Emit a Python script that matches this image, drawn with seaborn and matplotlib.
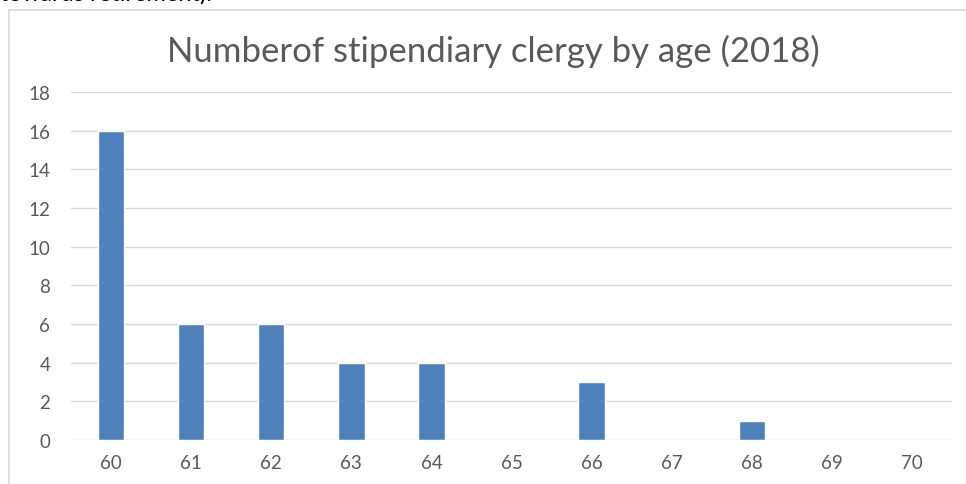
import seaborn as sns
import matplotlib.pyplot as plt
from matplotlib.patches import Rectangle
import pandas as pd

ages = ['60', '61', '62', '63', '64', '65', '66', '67', '68', '69', '70']
counts = [16, 6, 6, 4, 4, 0, 3, 0, 1, 0, 0]
yticks = [0, 2, 4, 6, 8, 10, 12, 14, 16, 18]

sns.set_style('white')
plt.rcParams['font.family'] = ['Lato', 'DejaVu Sans']

df = pd.DataFrame({'age': ages, 'count': counts})

fig = plt.figure(figsize=(9.66, 4.85), dpi=100)
W, H = 966, 485

# chart frame (screenshot of the spreadsheet chart)
fig.patches.append(Rectangle((9 / W, -0.1), 1.2, 1 - 11 / H + 0.1,
                             transform=fig.transFigure, fill=False,
                             edgecolor='#d9d9d9', linewidth=1.2))
# clipped text from the page above the chart
fig.text(0.0, 1.0 + 6 / H, 'towards retirement).', fontsize=17,
         color='black', ha='left', va='center')

ax = fig.add_axes([71 / W, 1 - 441 / H, (952 - 71) / W, (441 - 93) / H])
sns.barplot(data=df, x='age', y='count', color='#4f81bd', width=0.33,
            saturation=1, ax=ax)
ax.set_ylim(0, 18)
ax.set_xlim(-0.5, len(ages) - 0.5)
ax.set_yticks(yticks)
ax.grid(axis='y', color='#d9d9d9', linewidth=1)
ax.set_axisbelow(True)
for s in ax.spines.values():
    s.set_visible(False)
ax.tick_params(axis='both', length=0, labelsize=13.5, labelcolor='#595959')
ax.tick_params(axis='y', pad=15)
ax.tick_params(axis='x', pad=10)
ax.set_xlabel('')
ax.set_ylabel('')

fig.text(493 / W, 1 - 51 / H, 'Numberof stipendiary clergy by age (2018)',
         fontsize=25, color='#595959', ha='center', va='center')

fig.savefig('out.png', dpi=100)
